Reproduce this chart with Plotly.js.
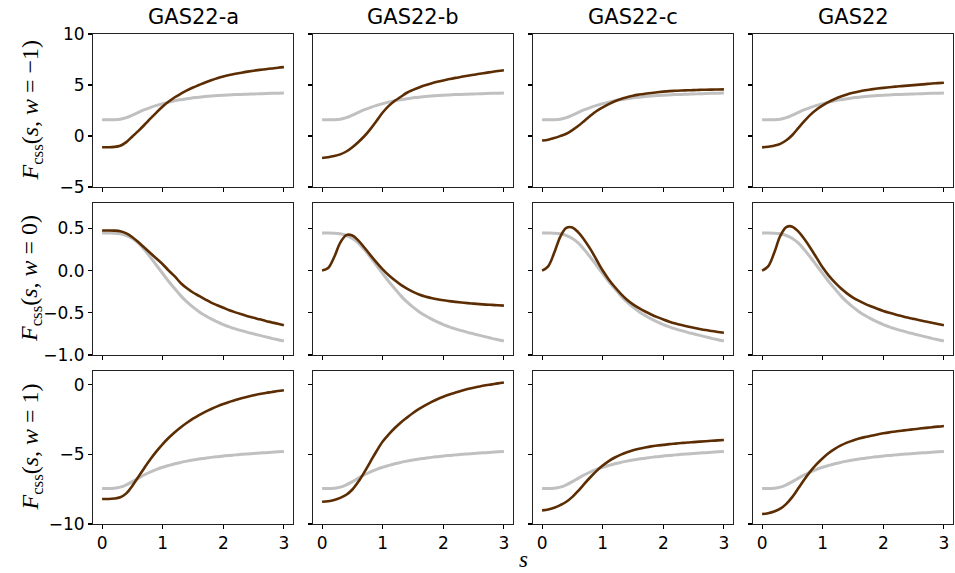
<!DOCTYPE html>
<html>
<head>
<meta charset="utf-8">
<script src="https://cdn.plot.ly/plotly-3.0.1.min.js"></script>
<style>html,body{margin:0;padding:0;background:#fff;}#chart{width:955px;height:573px;}</style>
</head>
<body>
<div id="chart"></div>
<script>
// ---- data ----
const s = [0,0.1,0.2,0.3,0.4,0.5,0.6,0.7,0.8,0.9,1.0,1.1,1.2,1.3,1.4,1.5,1.6,1.7,1.8,1.9,2.0,2.1,2.2,2.3,2.4,2.5,2.6,2.7,2.8,2.9,3.0];

const models = ["GAS22-a","GAS22-b","GAS22-c","GAS22"];
const wValues = ["−1","0","1"];

// reference (grey) curves, one per w
const ref_wm1 = [1.6,1.6,1.6,1.65,1.8,2.05,2.32,2.58,2.8,3.0,3.17,3.32,3.45,3.56,3.66,3.74,3.81,3.87,3.92,3.96,4.0,4.03,4.06,4.08,4.1,4.12,4.14,4.16,4.18,4.2,4.22];
const ref_w0  = [0.445,0.445,0.443,0.435,0.415,0.38,0.325,0.245,0.155,0.06,-0.035,-0.13,-0.215,-0.3,-0.372,-0.434,-0.487,-0.533,-0.573,-0.608,-0.639,-0.666,-0.69,-0.712,-0.732,-0.75,-0.768,-0.785,-0.803,-0.819,-0.835];
const ref_w1  = [-7.45,-7.45,-7.43,-7.35,-7.18,-6.95,-6.7,-6.46,-6.25,-6.07,-5.92,-5.79,-5.67,-5.57,-5.48,-5.4,-5.33,-5.27,-5.21,-5.16,-5.11,-5.07,-5.03,-4.99,-4.96,-4.93,-4.9,-4.87,-4.84,-4.81,-4.78];

// w = -1
const gas22a_wm1 = [-1.1,-1.1,-1.07,-0.95,-0.6,-0.05,0.5,1.1,1.72,2.32,2.9,3.38,3.8,4.15,4.47,4.75,5.0,5.25,5.47,5.67,5.84,5.98,6.1,6.21,6.31,6.4,6.48,6.55,6.62,6.69,6.75];
const gas22b_wm1 = [-2.15,-2.08,-1.97,-1.8,-1.52,-1.1,-0.58,0.0,0.7,1.5,2.3,2.95,3.45,3.85,4.24,4.52,4.76,4.97,5.15,5.31,5.45,5.58,5.7,5.8,5.9,6.0,6.1,6.19,6.28,6.37,6.45];
const gas22c_wm1 = [-0.44,-0.36,-0.2,0.0,0.22,0.58,1.0,1.5,2.0,2.45,2.8,3.12,3.4,3.63,3.8,3.95,4.06,4.15,4.22,4.29,4.35,4.4,4.43,4.46,4.48,4.5,4.52,4.54,4.55,4.56,4.57];
const gas22_wm1  = [-1.12,-1.06,-0.95,-0.77,-0.42,0.1,0.8,1.48,2.1,2.6,3.0,3.35,3.63,3.88,4.08,4.24,4.37,4.48,4.57,4.65,4.72,4.78,4.84,4.89,4.94,4.99,5.04,5.09,5.14,5.18,5.22];
// w = 0
const gas22a_w0 = [0.475,0.475,0.473,0.465,0.44,0.395,0.335,0.27,0.205,0.14,0.075,0.0,-0.07,-0.15,-0.21,-0.26,-0.3,-0.34,-0.38,-0.41,-0.44,-0.47,-0.495,-0.518,-0.54,-0.56,-0.578,-0.597,-0.614,-0.631,-0.647];
const gas22b_w0 = [0.0,0.03,0.16,0.33,0.42,0.415,0.355,0.27,0.18,0.095,0.015,-0.055,-0.115,-0.17,-0.215,-0.253,-0.283,-0.307,-0.325,-0.34,-0.352,-0.362,-0.371,-0.379,-0.386,-0.392,-0.398,-0.403,-0.407,-0.411,-0.415];
const gas22c_w0 = [0.0,0.05,0.21,0.4,0.505,0.51,0.45,0.36,0.25,0.125,0.0,-0.105,-0.195,-0.275,-0.345,-0.4,-0.445,-0.485,-0.52,-0.552,-0.58,-0.605,-0.627,-0.646,-0.663,-0.678,-0.692,-0.705,-0.716,-0.727,-0.737];
const gas22_w0  = [0.0,0.05,0.21,0.41,0.515,0.52,0.46,0.37,0.265,0.15,0.035,-0.06,-0.14,-0.21,-0.27,-0.32,-0.36,-0.395,-0.425,-0.453,-0.478,-0.5,-0.52,-0.538,-0.556,-0.572,-0.588,-0.603,-0.618,-0.633,-0.647];
// w = 1
const gas22a_w1 = [-8.2,-8.2,-8.17,-8.08,-7.8,-7.25,-6.6,-5.95,-5.33,-4.76,-4.25,-3.8,-3.4,-3.04,-2.72,-2.43,-2.17,-1.94,-1.73,-1.54,-1.37,-1.22,-1.08,-0.96,-0.85,-0.75,-0.66,-0.58,-0.51,-0.44,-0.38];
const gas22b_w1 = [-8.4,-8.36,-8.27,-8.12,-7.9,-7.52,-6.95,-6.25,-5.5,-4.75,-4.07,-3.55,-3.1,-2.7,-2.35,-2.02,-1.73,-1.47,-1.24,-1.03,-0.85,-0.69,-0.55,-0.42,-0.3,-0.2,-0.11,-0.03,0.04,0.11,0.17];
const gas22c_w1 = [-9.02,-8.96,-8.83,-8.64,-8.4,-8.05,-7.6,-7.1,-6.62,-6.18,-5.8,-5.48,-5.22,-5.01,-4.84,-4.7,-4.59,-4.5,-4.42,-4.36,-4.31,-4.26,-4.22,-4.18,-4.14,-4.11,-4.08,-4.05,-4.02,-3.99,-3.96];
const gas22_w1  = [-9.28,-9.22,-9.1,-8.9,-8.55,-8.05,-7.42,-6.78,-6.2,-5.7,-5.27,-4.9,-4.6,-4.35,-4.15,-3.99,-3.86,-3.75,-3.65,-3.56,-3.48,-3.41,-3.35,-3.29,-3.24,-3.19,-3.14,-3.09,-3.04,-3.0,-2.95];

const xTicks = [0,1,2,3];
const yTicksRows = [[-5,0,5,10],[-1.0,-0.5,0.0,0.5],[-10,-5,0]];
const yRanges = [[-5,10],[-1.0,0.8],[-10,1]];

// ---- build ----
const refRows = [ref_wm1, ref_w0, ref_w1];
const modelRows = [
  [gas22a_wm1, gas22b_wm1, gas22c_wm1, gas22_wm1],
  [gas22a_w0, gas22b_w0, gas22c_w0, gas22_w0],
  [gas22a_w1, gas22b_w1, gas22c_w1, gas22_w1]
];

const W = 955, H = 573;
const colPx = [[93,293],[313,513],[533,733],[753,953]];
const rowPx = [[34,187],[203,355],[371,524]];
const BROWN = "#5c2d03", GREY = "#c0c0c0";

const traces = [];
const layout = {
  width: W, height: H,
  margin: {l:0, r:0, t:0, b:0},
  paper_bgcolor: "#fff", plot_bgcolor: "#fff",
  showlegend: false,
  font: {family: "DejaVu Sans", color: "#000"},
  annotations: []
};

for (let r = 0; r < 3; r++) {
  for (let c = 0; c < 4; c++) {
    const idx = r*4 + c + 1;
    const xa = "x" + (idx === 1 ? "" : idx);
    const ya = "y" + (idx === 1 ? "" : idx);
    traces.push({x: s, y: refRows[r], xaxis: xa, yaxis: ya, mode: "lines",
      line: {color: GREY, width: 3, shape: "spline", smoothing: 1}, hoverinfo: "skip"});
    traces.push({x: s, y: modelRows[r][c], xaxis: xa, yaxis: ya, mode: "lines",
      line: {color: BROWN, width: 2.6, shape: "spline", smoothing: 1}, hoverinfo: "skip"});
    const xkey = "xaxis" + (idx === 1 ? "" : idx);
    const ykey = "yaxis" + (idx === 1 ? "" : idx);
    layout[xkey] = {
      domain: [colPx[c][0]/W, colPx[c][1]/W],
      anchor: ya, range: [-0.15, 3.15],
      tickvals: xTicks, showticklabels: r === 2,
      ticks: "outside", ticklen: 4, tickwidth: 1.1, tickcolor: "#000",
      showline: true, mirror: true, linecolor: "#222", linewidth: 1,
      showgrid: false, zeroline: false,
      tickfont: {size: 17, family: "DejaVu Sans", color: "#000"}
    };
    layout[ykey] = {
      domain: [1 - rowPx[r][1]/H, 1 - rowPx[r][0]/H],
      anchor: xa, range: yRanges[r],
      tickvals: yTicksRows[r], showticklabels: c === 0,
      tickformat: r === 1 ? ".1f" : "d",
      ticks: "outside", ticklen: 4, tickwidth: 1.1, tickcolor: "#000",
      showline: true, mirror: true, linecolor: "#222", linewidth: 1,
      showgrid: false, zeroline: false,
      tickfont: {size: 17, family: "DejaVu Sans", color: "#000"}
    };
  }
}

// column titles
models.forEach((m, c) => {
  layout.annotations.push({text: m, xref: "paper", yref: "paper",
    x: (colPx[c][0] + colPx[c][1]) / 2 / W, y: 1 - 17/H,
    xanchor: "center", yanchor: "middle", showarrow: false,
    font: {size: 21, family: "DejaVu Sans", color: "#000"}});
});

// row (y) labels
wValues.forEach((w, r) => {
  layout.annotations.push({
    text: "<i>F</i><sub>css</sub>(<i>s</i>, <i>w</i> = " + w + ")",
    xref: "paper", yref: "paper",
    x: 31/W, y: 1 - (rowPx[r][0] + rowPx[r][1]) / 2 / H,
    xanchor: "center", yanchor: "middle", textangle: -90, showarrow: false,
    font: {size: 24, family: "Liberation Serif", color: "#000"}});
});

// x label
layout.annotations.push({text: "<i>s</i>", xref: "paper", yref: "paper",
  x: 523/W, y: 0, xanchor: "center", yanchor: "bottom", borderpad: 0, showarrow: false,
  font: {size: 23, family: "Liberation Serif", color: "#000"}});

Plotly.newPlot("chart", traces, layout, {staticPlot: true, displayModeBar: false});
</script>
</body>
</html>
